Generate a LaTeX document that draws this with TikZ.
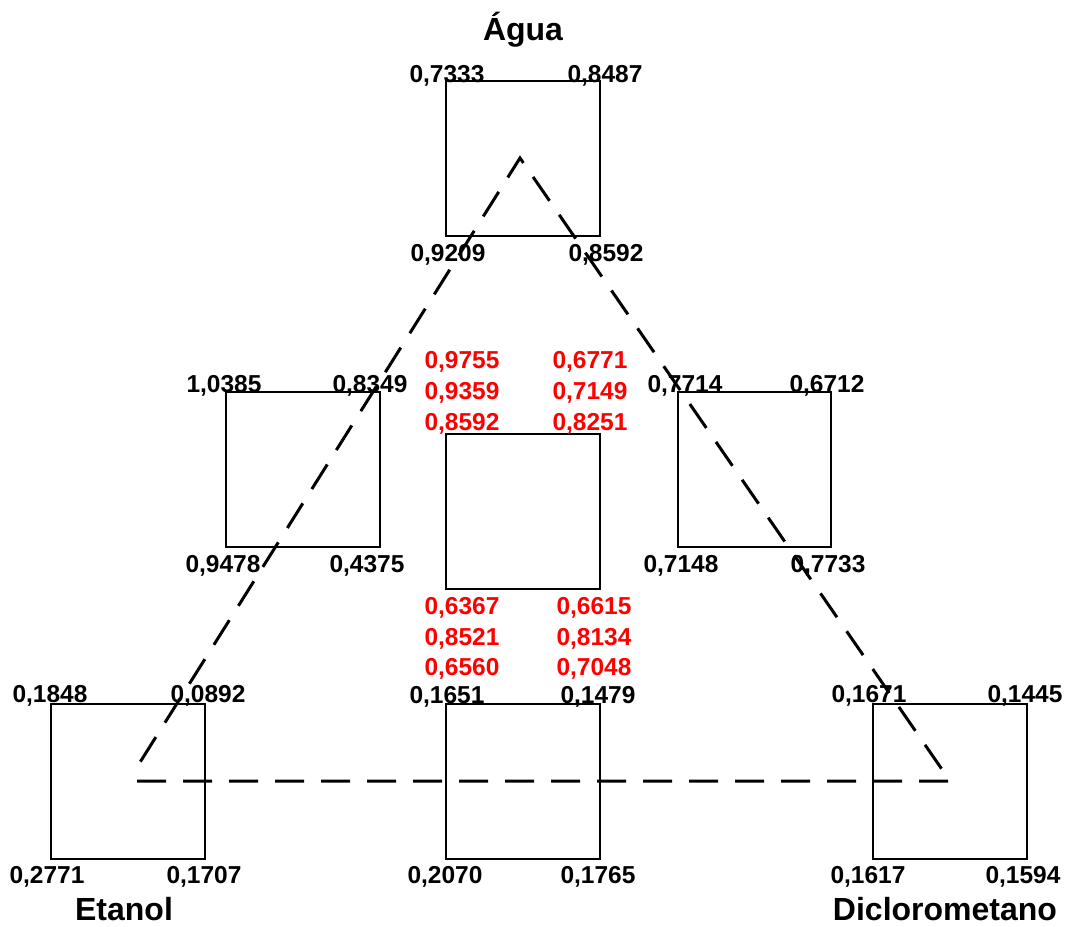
\documentclass[tikz,border=0pt]{standalone}
\usepackage{fontspec}
\setmainfont{Liberation Sans}
\begin{document}
\begin{tikzpicture}[x=1pt,y=-1pt,
  sq/.style={draw=black,line width=2.2pt},
  val/.style={inner sep=0pt,anchor=base,font=\fontsize{24.5}{24.5}\selectfont\bfseries},
  redval/.style={val,text=red},
  ttl/.style={inner sep=0pt,anchor=base,font=\fontsize{32}{32}\selectfont\bfseries},
  tri/.style={draw=black,line width=3pt,dash pattern=on 29pt off 17pt}]
\useasboundingbox (0,0) rectangle (1070,926);
% boxes
\draw[sq] (446,81) rectangle (600,236) node[pos=0.5] (bT) {};
\draw[sq] (226,392) rectangle (380,547) node[pos=0.5] (bL) {};
\draw[sq] (678,392) rectangle (831,547) node[pos=0.5] (bR) {};
\draw[sq] (446,434) rectangle (600,589) node[pos=0.5] (bC) {};
\draw[sq] (51,704) rectangle (205,859) node[pos=0.5] (bE) {};
\draw[sq] (446,704) rectangle (600,859) node[pos=0.5] (bM) {};
\draw[sq] (873,704) rectangle (1027,859) node[pos=0.5] (bD) {};
% triangle
\coordinate (vA) at (520,158);
\coordinate (vE) at (137,781);
\coordinate (vEe) at (132,775);
\coordinate (vD) at (950,781);
\draw[tri] (vE) -- (vD) -- (vA) -- (vEe);
% titles
\node[ttl] (tA) at (523,40) {Água};
\node[ttl] (tE) at (124,920) {Etanol};
\node[ttl] (tD) at (945,920) {Diclorometano};
% top box
\node[val] (t1) at (447,82) {0,7333};
\node[val] (t2) at (605,82) {0,8487};
\node[val] (t3) at (448,261) {0,9209};
\node[val] (t4) at (606,261) {0,8592};
% left mid
\node[val] (l1) at (224,392) {1,0385};
\node[val] (l2) at (370,392) {0,8349};
\node[val] (l3) at (223,572) {0,9478};
\node[val] (l4) at (367,572) {0,4375};
% right mid
\node[val] (r1) at (685,392) {0,7714};
\node[val] (r2) at (827,392) {0,6712};
\node[val] (r3) at (681,572) {0,7148};
\node[val] (r4) at (828,572) {0,7733};
% center red
\node[redval] (c1) at (462,368) {0,9755};
\node[redval] (c2) at (462,399) {0,9359};
\node[redval] (c3) at (462,430) {0,8592};
\node[redval] (c4) at (590,368) {0,6771};
\node[redval] (c5) at (590,399) {0,7149};
\node[redval] (c6) at (590,430) {0,8251};
\node[redval] (c7) at (462,614) {0,6367};
\node[redval] (c8) at (462,645) {0,8521};
\node[redval] (c9) at (462,675) {0,6560};
\node[redval] (c10) at (594,614) {0,6615};
\node[redval] (c11) at (594,645) {0,8134};
\node[redval] (c12) at (594,675) {0,7048};
% bottom left
\node[val] (e1) at (50,702) {0,1848};
\node[val] (e2) at (208,702) {0,0892};
\node[val] (e3) at (47,883) {0,2771};
\node[val] (e4) at (204,883) {0,1707};
% bottom center
\node[val] (m1) at (447,703) {0,1651};
\node[val] (m2) at (598,703) {0,1479};
\node[val] (m3) at (445,883) {0,2070};
\node[val] (m4) at (598,883) {0,1765};
% bottom right
\node[val] (d1) at (869,702) {0,1671};
\node[val] (d2) at (1025,702) {0,1445};
\node[val] (d3) at (868,883) {0,1617};
\node[val] (d4) at (1023,883) {0,1594};
\end{tikzpicture}
\end{document}
